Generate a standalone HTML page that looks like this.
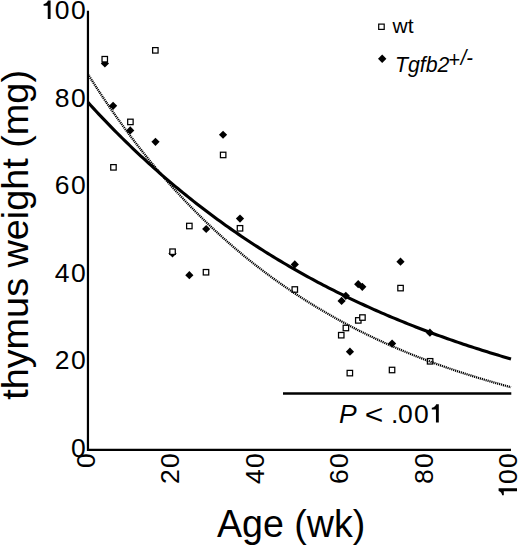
<!DOCTYPE html>
<html><head><meta charset="utf-8"><style>
html,body{margin:0;padding:0;background:#fff;width:520px;height:545px;overflow:hidden}
svg{display:block}
text{font-family:"Liberation Sans",sans-serif;fill:#000}
</style></head><body>
<svg width="520" height="545" viewBox="0 0 520 545">
<rect width="520" height="545" fill="#fff"/>
<path d="M87.95,10.80 L87.95,449.80 L511.00,449.80" fill="none" stroke="#000" stroke-width="2.2" stroke-linejoin="miter" stroke-linecap="butt"/>
<line x1="283" y1="393.5" x2="511.3" y2="393.5" stroke="#000" stroke-width="2.6"/>
<path d="M104.90,59.40 L109.00,63.50 L104.90,67.60 L100.80,63.50 Z" fill="#000"/>
<path d="M113.10,101.70 L117.20,105.80 L113.10,109.90 L109.00,105.80 Z" fill="#000"/>
<path d="M130.20,126.30 L134.30,130.40 L130.20,134.50 L126.10,130.40 Z" fill="#000"/>
<path d="M155.50,137.75 L159.60,141.85 L155.50,145.95 L151.40,141.85 Z" fill="#000"/>
<path d="M223.05,130.65 L227.15,134.75 L223.05,138.85 L218.95,134.75 Z" fill="#000"/>
<path d="M240.00,214.50 L244.10,218.60 L240.00,222.70 L235.90,218.60 Z" fill="#000"/>
<path d="M206.20,224.90 L210.30,229.00 L206.20,233.10 L202.10,229.00 Z" fill="#000"/>
<path d="M172.50,249.35 L176.60,253.45 L172.50,257.55 L168.40,253.45 Z" fill="#000"/>
<path d="M189.35,271.05 L193.45,275.15 L189.35,279.25 L185.25,275.15 Z" fill="#000"/>
<path d="M294.80,260.30 L298.90,264.40 L294.80,268.50 L290.70,264.40 Z" fill="#000"/>
<path d="M341.60,296.80 L345.70,300.90 L341.60,305.00 L337.50,300.90 Z" fill="#000"/>
<path d="M345.80,291.70 L349.90,295.80 L345.80,299.90 L341.70,295.80 Z" fill="#000"/>
<path d="M349.95,347.55 L354.05,351.65 L349.95,355.75 L345.85,351.65 Z" fill="#000"/>
<path d="M358.20,280.10 L362.30,284.20 L358.20,288.30 L354.10,284.20 Z" fill="#000"/>
<path d="M362.30,282.70 L366.40,286.80 L362.30,290.90 L358.20,286.80 Z" fill="#000"/>
<path d="M392.10,339.50 L396.20,343.60 L392.10,347.70 L388.00,343.60 Z" fill="#000"/>
<path d="M400.50,257.60 L404.60,261.70 L400.50,265.80 L396.40,261.70 Z" fill="#000"/>
<path d="M429.90,328.60 L434.00,332.70 L429.90,336.80 L425.80,332.70 Z" fill="#000"/>
<rect x="102.03" y="56.48" width="5.45" height="5.45" fill="#fff" stroke="#000" stroke-width="1.25"/>
<rect x="152.62" y="47.62" width="5.45" height="5.45" fill="#fff" stroke="#000" stroke-width="1.25"/>
<rect x="110.73" y="164.62" width="5.45" height="5.45" fill="#fff" stroke="#000" stroke-width="1.25"/>
<rect x="127.68" y="119.18" width="5.45" height="5.45" fill="#fff" stroke="#000" stroke-width="1.25"/>
<rect x="220.43" y="152.22" width="5.45" height="5.45" fill="#fff" stroke="#000" stroke-width="1.25"/>
<rect x="186.62" y="223.28" width="5.45" height="5.45" fill="#fff" stroke="#000" stroke-width="1.25"/>
<rect x="169.83" y="248.97" width="5.45" height="5.45" fill="#fff" stroke="#000" stroke-width="1.25"/>
<rect x="203.28" y="269.52" width="5.45" height="5.45" fill="#fff" stroke="#000" stroke-width="1.25"/>
<rect x="237.28" y="225.58" width="5.45" height="5.45" fill="#fff" stroke="#000" stroke-width="1.25"/>
<rect x="292.07" y="286.77" width="5.45" height="5.45" fill="#fff" stroke="#000" stroke-width="1.25"/>
<rect x="338.52" y="332.47" width="5.45" height="5.45" fill="#fff" stroke="#000" stroke-width="1.25"/>
<rect x="343.17" y="325.27" width="5.45" height="5.45" fill="#fff" stroke="#000" stroke-width="1.25"/>
<rect x="347.12" y="370.38" width="5.45" height="5.45" fill="#fff" stroke="#000" stroke-width="1.25"/>
<rect x="355.57" y="317.67" width="5.45" height="5.45" fill="#fff" stroke="#000" stroke-width="1.25"/>
<rect x="359.72" y="314.82" width="5.45" height="5.45" fill="#fff" stroke="#000" stroke-width="1.25"/>
<rect x="389.32" y="367.27" width="5.45" height="5.45" fill="#fff" stroke="#000" stroke-width="1.25"/>
<rect x="397.82" y="285.38" width="5.45" height="5.45" fill="#fff" stroke="#000" stroke-width="1.25"/>
<rect x="427.38" y="358.57" width="5.45" height="5.45" fill="#fff" stroke="#000" stroke-width="1.25"/>
<path d="M87.95,74.24 L90.59,78.42 L93.24,82.55 L95.88,86.64 L98.53,90.68 L101.17,94.68 L103.81,98.63 L106.46,102.54 L109.10,106.41 L111.75,110.23 L114.39,114.01 L117.03,117.75 L119.68,121.44 L122.32,125.10 L124.97,128.71 L127.61,132.29 L130.25,135.82 L132.90,139.31 L135.54,142.77 L138.19,146.19 L140.83,149.57 L143.48,152.91 L146.12,156.21 L148.76,159.48 L151.41,162.71 L154.05,165.91 L156.70,169.07 L159.34,172.20 L161.98,175.29 L164.63,178.34 L167.27,181.36 L169.92,184.35 L172.56,187.31 L175.20,190.23 L177.85,193.12 L180.49,195.97 L183.14,198.80 L185.78,201.59 L188.42,204.36 L191.07,207.09 L193.71,209.79 L196.36,212.46 L199.00,215.10 L201.64,217.72 L204.29,220.30 L206.93,222.85 L209.58,225.38 L212.22,227.88 L214.87,230.35 L217.51,232.79 L220.15,235.21 L222.80,237.60 L225.44,239.96 L228.09,242.29 L230.73,244.60 L233.37,246.89 L236.02,249.15 L238.66,251.38 L241.31,253.59 L243.95,255.77 L246.59,257.93 L249.24,260.07 L251.88,262.18 L254.53,264.27 L257.17,266.33 L259.81,268.38 L262.46,270.40 L265.10,272.39 L267.75,274.37 L270.39,276.32 L273.03,278.25 L275.68,280.16 L278.32,282.05 L280.97,283.92 L283.61,285.76 L286.25,287.59 L288.90,289.39 L291.54,291.18 L294.19,292.95 L296.83,294.69 L299.48,296.42 L302.12,298.13 L304.76,299.81 L307.41,301.48 L310.05,303.13 L312.70,304.77 L315.34,306.38 L317.98,307.98 L320.63,309.56 L323.27,311.12 L325.92,312.66 L328.56,314.19 L331.20,315.70 L333.85,317.19 L336.49,318.67 L339.14,320.13 L341.78,321.57 L344.42,323.00 L347.07,324.41 L349.71,325.80 L352.36,327.18 L355.00,328.55 L357.64,329.90 L360.29,331.23 L362.93,332.55 L365.58,333.86 L368.22,335.15 L370.86,336.43 L373.51,337.69 L376.15,338.94 L378.80,340.17 L381.44,341.39 L384.08,342.60 L386.73,343.79 L389.37,344.97 L392.02,346.14 L394.66,347.29 L397.31,348.43 L399.95,349.56 L402.59,350.68 L405.24,351.78 L407.88,352.87 L410.53,353.95 L413.17,355.02 L415.81,356.07 L418.46,357.11 L421.10,358.15 L423.75,359.17 L426.39,360.18 L429.03,361.17 L431.68,362.16 L434.32,363.14 L436.97,364.10 L439.61,365.05 L442.25,366.00 L444.90,366.93 L447.54,367.85 L450.19,368.76 L452.83,369.67 L455.47,370.56 L458.12,371.44 L460.76,372.31 L463.41,373.18 L466.05,374.03 L468.69,374.87 L471.34,375.71 L473.98,376.53 L476.63,377.35 L479.27,378.15 L481.92,378.95 L484.56,379.74 L487.20,380.52 L489.85,381.29 L492.49,382.05 L495.14,382.81 L497.78,383.55 L500.42,384.29 L503.07,385.02 L505.71,385.74 L508.36,386.45 L511.00,387.16" fill="none" stroke="#000" stroke-width="2.3" stroke-dasharray="1.2 0.8"/>
<path d="M87.95,102.38 L90.59,105.28 L93.24,108.15 L95.88,111.00 L98.53,113.83 L101.17,116.64 L103.81,119.42 L106.46,122.18 L109.10,124.91 L111.75,127.63 L114.39,130.32 L117.03,132.98 L119.68,135.63 L122.32,138.25 L124.97,140.85 L127.61,143.43 L130.25,145.99 L132.90,148.52 L135.54,151.04 L138.19,153.53 L140.83,156.01 L143.48,158.46 L146.12,160.89 L148.76,163.30 L151.41,165.70 L154.05,168.07 L156.70,170.42 L159.34,172.75 L161.98,175.07 L164.63,177.36 L167.27,179.63 L169.92,181.89 L172.56,184.13 L175.20,186.34 L177.85,188.54 L180.49,190.73 L183.14,192.89 L185.78,195.03 L188.42,197.16 L191.07,199.27 L193.71,201.36 L196.36,203.44 L199.00,205.49 L201.64,207.53 L204.29,209.55 L206.93,211.56 L209.58,213.55 L212.22,215.52 L214.87,217.48 L217.51,219.42 L220.15,221.34 L222.80,223.25 L225.44,225.14 L228.09,227.01 L230.73,228.87 L233.37,230.72 L236.02,232.55 L238.66,234.36 L241.31,236.16 L243.95,237.94 L246.59,239.71 L249.24,241.47 L251.88,243.21 L254.53,244.93 L257.17,246.64 L259.81,248.34 L262.46,250.02 L265.10,251.69 L267.75,253.34 L270.39,254.98 L273.03,256.61 L275.68,258.22 L278.32,259.82 L280.97,261.41 L283.61,262.98 L286.25,264.54 L288.90,266.09 L291.54,267.62 L294.19,269.14 L296.83,270.65 L299.48,272.14 L302.12,273.63 L304.76,275.10 L307.41,276.56 L310.05,278.00 L312.70,279.44 L315.34,280.86 L317.98,282.27 L320.63,283.67 L323.27,285.06 L325.92,286.43 L328.56,287.80 L331.20,289.15 L333.85,290.49 L336.49,291.82 L339.14,293.14 L341.78,294.45 L344.42,295.74 L347.07,297.03 L349.71,298.30 L352.36,299.57 L355.00,300.82 L357.64,302.07 L360.29,303.30 L362.93,304.52 L365.58,305.74 L368.22,306.94 L370.86,308.13 L373.51,309.31 L376.15,310.49 L378.80,311.65 L381.44,312.80 L384.08,313.95 L386.73,315.08 L389.37,316.21 L392.02,317.32 L394.66,318.43 L397.31,319.52 L399.95,320.61 L402.59,321.69 L405.24,322.76 L407.88,323.82 L410.53,324.87 L413.17,325.92 L415.81,326.95 L418.46,327.98 L421.10,328.99 L423.75,330.00 L426.39,331.00 L429.03,331.99 L431.68,332.98 L434.32,333.95 L436.97,334.92 L439.61,335.88 L442.25,336.83 L444.90,337.77 L447.54,338.71 L450.19,339.64 L452.83,340.56 L455.47,341.47 L458.12,342.37 L460.76,343.27 L463.41,344.16 L466.05,345.04 L468.69,345.91 L471.34,346.78 L473.98,347.64 L476.63,348.49 L479.27,349.34 L481.92,350.18 L484.56,351.01 L487.20,351.84 L489.85,352.65 L492.49,353.46 L495.14,354.27 L497.78,355.07 L500.42,355.86 L503.07,356.64 L505.71,357.42 L508.36,358.19 L511.00,358.96" fill="none" stroke="#000" stroke-width="3.1"/>
<g transform="translate(0,19.00)"><text x="70.90" y="0" font-size="26.5">0</text><text x="54.86" y="0" font-size="26.5">0</text><path d="M0,-18.4 L0,0 L-2.85,0 L-2.85,-13.2 L-7.0,-13.2 L-7.0,-14.9 C-5.2,-15.0 -3.5,-16.0 -2.6,-18.4 Z" transform="translate(50.59,0)"/></g>
<g transform="translate(0,106.60)"><text x="70.90" y="0" font-size="26.5">0</text><text x="54.86" y="0" font-size="26.5">8</text></g>
<g transform="translate(0,194.20)"><text x="70.90" y="0" font-size="26.5">0</text><text x="54.86" y="0" font-size="26.5">6</text></g>
<g transform="translate(0,281.80)"><text x="70.90" y="0" font-size="26.5">0</text><text x="54.86" y="0" font-size="26.5">4</text></g>
<g transform="translate(0,369.40)"><text x="70.90" y="0" font-size="26.5">0</text><text x="54.86" y="0" font-size="26.5">2</text></g>
<g transform="translate(0,457.00)"><text x="70.90" y="0" font-size="26.5">0</text></g>
<g transform="translate(95.10,454.3) rotate(-90)"><text x="-13.70" y="0" font-size="26.5">0</text></g>
<g transform="translate(179.48,454.3) rotate(-90)"><text x="-13.70" y="0" font-size="26.5">0</text><text x="-29.74" y="0" font-size="26.5">2</text></g>
<g transform="translate(263.86,454.3) rotate(-90)"><text x="-13.70" y="0" font-size="26.5">0</text><text x="-29.74" y="0" font-size="26.5">4</text></g>
<g transform="translate(348.24,454.3) rotate(-90)"><text x="-13.70" y="0" font-size="26.5">0</text><text x="-29.74" y="0" font-size="26.5">6</text></g>
<g transform="translate(432.62,454.3) rotate(-90)"><text x="-13.70" y="0" font-size="26.5">0</text><text x="-29.74" y="0" font-size="26.5">8</text></g>
<g transform="translate(517.00,454.3) rotate(-90)"><text x="-13.70" y="0" font-size="26.5">0</text><text x="-29.74" y="0" font-size="26.5">0</text><path d="M0,-18.4 L0,0 L-2.85,0 L-2.85,-13.2 L-7.0,-13.2 L-7.0,-14.9 C-5.2,-15.0 -3.5,-16.0 -2.6,-18.4 Z" transform="translate(-34.01,0)"/></g>
<text transform="translate(217,536.5) scale(1,1.045)" font-size="37.6">Age (wk)</text>
<text transform="translate(27.7,399.8) rotate(-90)" font-size="37.8">thymus weight (mg)</text>
<rect x="378.7" y="24.1" width="5.5" height="5.3" fill="#fff" stroke="#000" stroke-width="1.2"/>
<path d="M382.2,54.5 L386.4,58.8 L382.2,63.1 L378,58.8 Z" fill="#000"/>
<text x="392.5" y="32.5" font-size="21">wt</text>
<text transform="translate(394.9,71.6) scale(1.0,1.07)" font-size="21.3" font-style="italic">Tgfb2<tspan font-size="20" dx="-1.2" dy="-4.6">+</tspan><tspan font-size="20" dx="1.0" dy="-1.3">/-</tspan></text>
<text x="339" y="422.6" font-size="26.5" font-style="italic">P</text>
<text transform="translate(364.7,424.3) scale(1.2,1.04)" font-size="26.5">&lt;</text>
<text x="390.9" y="422.6" font-size="26.5">.</text>
<g transform="translate(0,422.6)"><path d="M0,-18.4 L0,0 L-2.85,0 L-2.85,-13.2 L-7.0,-13.2 L-7.0,-14.9 C-5.2,-15.0 -3.5,-16.0 -2.6,-18.4 Z" transform="translate(438.80,0)"/><text x="414.10" y="0" font-size="26.5">0</text><text x="398.06" y="0" font-size="26.5">0</text></g>
</svg></body></html>
